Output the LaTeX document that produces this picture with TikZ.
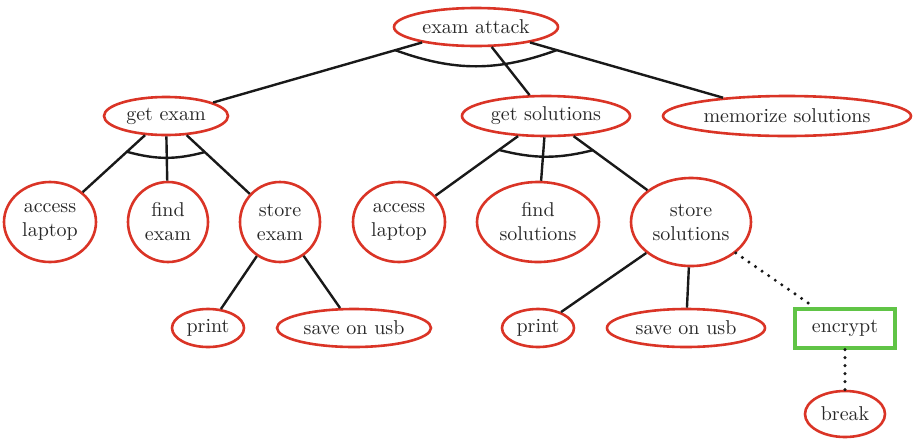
\documentclass[tikz,border=0pt]{standalone}
\usetikzlibrary{shapes.geometric,calc}
\definecolor{nodered}{RGB}{218,52,38}
\definecolor{boxgreen}{RGB}{96,196,70}
\definecolor{textgray}{RGB}{40,40,40}
\tikzset{
  ell/.style={ellipse, draw=nodered, line width=1.3pt, inner sep=0pt, align=center, text=textgray},
  gbox/.style={rectangle, draw=boxgreen, line width=1.6pt, inner sep=0pt, text=textgray},
  edge/.style={draw=black!90, line width=1.2pt},
  dotedge/.style={draw=black!90, line width=1.7pt, line cap=round, dash pattern=on 0pt off 4pt},
  andarc/.style={draw=black!90, line width=1.2pt}
}
\begin{document}
\begin{tikzpicture}[x=0.5pt,y=-0.5pt]
\useasboundingbox (0,0) rectangle (915,440);
\node[ell, minimum width=82pt, minimum height=19pt] (ea) at (476,27) {exam attack};
\node[ell, minimum width=62pt, minimum height=19pt] (ge) at (166,116) {get exam};
\node[ell, minimum width=84pt, minimum height=20pt] (gs) at (546,116) {get solutions};
\node[ell, minimum width=124pt, minimum height=20pt] (ms) at (787,116) {memorize solutions};
\node[ell, minimum width=46pt, minimum height=40pt] (al1) at (50,222) {access\\laptop};
\node[ell, minimum width=40pt, minimum height=40pt] (fe) at (168,222) {find\\exam};
\node[ell, minimum width=40pt, minimum height=40pt] (se) at (280,222) {store\\exam};
\node[ell, minimum width=46pt, minimum height=40pt] (al2) at (399,222) {access\\laptop};
\node[ell, minimum width=61pt, minimum height=40pt] (fs) at (538,222) {find\\solutions};
\node[ell, minimum width=60pt, minimum height=44pt] (ss) at (691,222) {store\\solutions};
\node[ell, minimum width=36pt, minimum height=19pt] (p1) at (208,328) {print};
\node[ell, minimum width=77pt, minimum height=19pt] (u1) at (354,328) {save on usb};
\node[ell, minimum width=36pt, minimum height=19pt] (p2) at (538,328) {print};
\node[ell, minimum width=79pt, minimum height=19pt] (u2) at (686,328) {save on usb};
\node[gbox, minimum width=50pt, minimum height=19.5pt] (en) at (845,328.5) {encrypt};
\node[ell, minimum width=40pt, minimum height=23pt] (br) at (845,414) {break};

\draw[edge] (ea) -- (ge);
\draw[edge] (ea) -- (gs);
\draw[edge] (ea) -- (ms);
\draw[edge] (ge) -- (al1);
\draw[edge] (ge) -- (fe);
\draw[edge] (ge) -- (se);
\draw[edge] (gs) -- (al2);
\draw[edge] (gs) -- (fs);
\draw[edge] (gs) -- (ss);
\draw[edge] (se) -- (p1);
\draw[edge] (se) -- (u1);
\draw[edge] (ss) -- (p2);
\draw[edge] (ss) -- (u2);
\draw[dotedge] (ss) -- (en);
\draw[dotedge] (en) -- (br);

\draw[andarc] ($(ea)!42pt!(ge)$) to[bend right=20] ($(ea)!42pt!(ms)$);
\draw[andarc] ($(ge)!26.5pt!(al1)$) to[bend right=15] ($(ge)!26.5pt!(se)$);
\draw[andarc] ($(gs)!29pt!(al2)$) to[bend right=14] ($(gs)!29pt!(ss)$);
\end{tikzpicture}
\end{document}
